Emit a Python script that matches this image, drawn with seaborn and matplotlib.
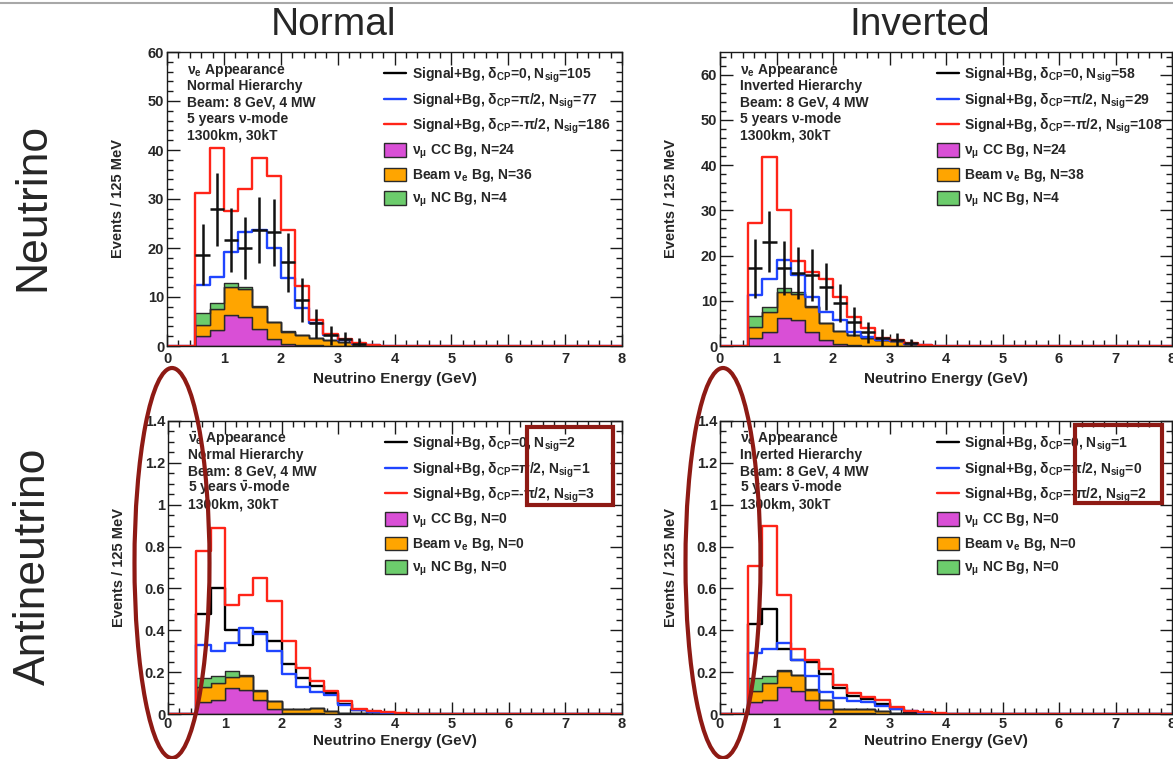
import numpy as np
import pandas as pd
import matplotlib
matplotlib.use("Agg")
import matplotlib.pyplot as plt
import seaborn as sns
from matplotlib.lines import Line2D
from matplotlib.patches import Patch, Ellipse, Rectangle
from matplotlib.ticker import MultipleLocator, FuncFormatter
from matplotlib.transforms import IdentityTransform

# ---------------------------------------------------------------------------
# Binning: 0.25 GeV bins from 0 to 8 GeV; filled bins start at 0.5 GeV
# ---------------------------------------------------------------------------
BIN_EDGES = [round(0.25 * i, 2) for i in range(33)]
FIRST_BIN_E = 0.5

# ---------------------------------------------------------------------------
# Normal hierarchy, neutrino mode
# ---------------------------------------------------------------------------
NH_NU_RED = [31.2, 40.5, 27.5, 32.1, 38.3, 34.7, 23.7, 12.3, 5.4, 2.4, 1.4, 0.6, 0.3, 0.1]
NH_NU_BLUE = [12.5, 14.0, 19.1, 23.2, 23.6, 20.0, 13.8, 7.7, 4.6, 2.2, 1.2, 0.5, 0.2]
NH_NU_POINTS = [18.6, 27.9, 21.7, 20.0, 23.7, 23.2, 17.1, 9.4, 4.6, 2.2, 1.4, 0.5]
NH_NU_ERRORS = [6.2, 7.5, 6.5, 6.4, 6.7, 6.9, 6.0, 4.4, 3.0, 1.9, 1.5, 1.2]
NH_NU_NUMU_CC = [2.0, 3.2, 6.4, 6.0, 3.4, 1.5, 0.5, 0.3, 0.2, 0.1, 0.1, 0.05]
NH_NU_BEAM_NUE = [2.3, 4.3, 5.7, 5.6, 4.6, 3.3, 2.4, 1.9, 1.4, 1.1, 0.7, 0.35, 0.2]
NH_NU_NC = [2.5, 1.2, 0.7, 0.5, 0.2, 0.1, 0.1]

# ---------------------------------------------------------------------------
# Inverted hierarchy, neutrino mode
# ---------------------------------------------------------------------------
IH_NU_RED = [27.2, 41.8, 30.1, 18.7, 16.3, 14.8, 10.9, 6.5, 3.9, 1.8, 1.3, 0.6, 0.3, 0.1]
IH_NU_BLUE = [11.3, 14.8, 19.0, 15.7, 10.8, 7.6, 5.8, 3.0, 2.1, 1.3, 1.0, 0.5, 0.2]
IH_NU_POINTS = [17.2, 23.1, 17.2, 16.1, 15.7, 13.1, 9.4, 5.4, 3.0, 1.7, 1.3, 0.6]
IH_NU_ERRORS = [6.5, 6.8, 6.0, 5.8, 5.8, 5.2, 4.2, 3.2, 2.4, 2.0, 1.5, 0.9]
IH_NU_NUMU_CC = [1.8, 3.2, 6.3, 5.8, 3.2, 1.3, 0.4, 0.2, 0.1, 0.1]
IH_NU_BEAM_NUE = [2.5, 4.3, 5.6, 5.6, 5.5, 3.7, 2.9, 2.2, 1.7, 1.2, 1.0, 0.5, 0.2]
IH_NU_NC = [2.3, 1.2, 0.9, 0.5, 0.1]

# ---------------------------------------------------------------------------
# Normal hierarchy, antineutrino mode
# ---------------------------------------------------------------------------
NH_NUBAR_RED = [0.78, 0.89, 0.52, 0.57, 0.65, 0.54, 0.35, 0.22, 0.16, 0.11, 0.06, 0.025, 0.013, 0.008, 0.004, 0.002]
NH_NUBAR_BLACK = [0.48, 0.60, 0.40, 0.33, 0.39, 0.35, 0.24, 0.17, 0.135, 0.10, 0.05, 0.02, 0.01, 0.005]
NH_NUBAR_BLUE = [0.33, 0.30, 0.34, 0.41, 0.38, 0.30, 0.19, 0.13, 0.105, 0.09, 0.045, 0.018, 0.01, 0.005]
NH_NUBAR_NUMU_CC = [0.057, 0.065, 0.125, 0.113, 0.065, 0.024, 0.005, 0.003, 0.003, 0.002]
NH_NUBAR_BEAM_NUE = [0.070, 0.083, 0.050, 0.067, 0.046, 0.036, 0.020, 0.021, 0.026, 0.014, 0.005, 0.003]
NH_NUBAR_NC = [0.043, 0.032, 0.029, 0.005, 0.003]

# ---------------------------------------------------------------------------
# Inverted hierarchy, antineutrino mode
# ---------------------------------------------------------------------------
IH_NUBAR_RED = [0.705, 0.90, 0.57, 0.31, 0.26, 0.215, 0.14, 0.10, 0.08, 0.065, 0.032, 0.016, 0.01, 0.005]
IH_NUBAR_BLACK = [0.43, 0.50, 0.31, 0.26, 0.247, 0.19, 0.124, 0.084, 0.073, 0.05, 0.025, 0.01, 0.005]
IH_NUBAR_BLUE = [0.29, 0.31, 0.34, 0.256, 0.18, 0.105, 0.076, 0.064, 0.059, 0.037, 0.024, 0.013, 0.006]
IH_NUBAR_NUMU_CC = [0.056, 0.068, 0.127, 0.111, 0.068, 0.024, 0.005, 0.003, 0.003, 0.002]
IH_NUBAR_BEAM_NUE = [0.055, 0.080, 0.077, 0.074, 0.048, 0.041, 0.020, 0.021, 0.022, 0.014, 0.005, 0.003]
IH_NUBAR_NC = [0.061, 0.032, 0.006, 0.003, 0.002]

# Signal / background counts quoted in the legends
NH_NU_NSIG = [105, 77, 186]
IH_NU_NSIG = [58, 29, 108]
NH_NUBAR_NSIG = [2, 1, 3]
IH_NUBAR_NSIG = [1, 0, 2]
NU_BG_COUNTS_NH = [24, 36, 4]
NU_BG_COUNTS_IH = [24, 38, 4]
NUBAR_BG_COUNTS = [0, 0, 0]
DELTA_CP = ["0", "π/2", "-π/2"]

COLUMN_TITLES = ["Normal", "Inverted"]
ROW_TITLES = ["Neutrino", "Antineutrino"]
HIERARCHY_NAMES = ["Normal Hierarchy", "Inverted Hierarchy"]

# ---------------------------------------------------------------------------
# Styling
# ---------------------------------------------------------------------------
C_RED = "#ff2418"
C_BLUE = "#1f45ff"
C_BLACK = "#000000"
C_MAGENTA = "#d94fd6"
C_ORANGE = "#ffa500"
C_GREEN = "#6ccc6c"
C_EDGE = "#2a2a2a"
C_MARK = "#8e1a14"

sns.set_style("ticks")
plt.rcParams["font.family"] = ["Liberation Sans", "DejaVu Sans"]
plt.rcParams.update({
    "mathtext.fontset": "custom",
    "mathtext.rm": "Liberation Sans:bold",
    "mathtext.it": "Liberation Sans:bold",
    "mathtext.bf": "Liberation Sans:bold",
    "mathtext.sf": "Liberation Sans:bold",
    "axes.edgecolor": "#1a1a1a",
    "axes.linewidth": 1.0,
})

W, H = 1173, 759
fig = plt.figure(figsize=(W / 100, H / 100), dpi=100)
fig.patch.set_facecolor("white")

# axes boxes in pixels: left, top, right, bottom
BOXES = {
    (0, 0): (167, 52, 622, 346),
    (0, 1): (720, 52, 1172, 346),
    (1, 0): (168, 421, 622, 714),
    (1, 1): (720, 421, 1172, 714),
}

N_BINS = len(BIN_EDGES) - 1
CENTERS = [BIN_EDGES[i] + 0.125 for i in range(N_BINS)]


def make_axes(box):
    l, t, r, b = box
    return fig.add_axes([l / W, 1 - b / H, (r - l) / W, (b - t) / H])


def full_bins(values):
    arr = np.zeros(N_BINS)
    start = int(round(FIRST_BIN_E / 0.25))
    arr[start:start + len(values)] = values
    return arr


def draw_panel(ax, box, bg, lines, points, errors, ylim, ymaj, ymin,
               header, legend_labels, xlabel_base, xtick_pad):
    l, t, r, b = box
    wpx, hpx = r - l, b - t

    # stacked backgrounds: nu_mu CC at the bottom, beam nu_e, NC on top
    order = ["NC", "beam", "numuCC"]
    df = pd.DataFrame({
        "E": np.tile(CENTERS, 3),
        "w": np.concatenate([full_bins(bg[k]) for k in order]),
        "src": np.repeat(order, N_BINS),
    })
    sns.histplot(data=df, x="E", weights="w", hue="src", hue_order=order,
                 palette={"NC": C_GREEN, "beam": C_ORANGE, "numuCC": C_MAGENTA},
                 bins=BIN_EDGES, multiple="stack", element="step", fill=True,
                 alpha=1, edgecolor=C_EDGE, linewidth=1.0, legend=False, ax=ax)

    for vals, color in lines:
        sns.histplot(x=CENTERS, weights=full_bins(vals), bins=BIN_EDGES,
                     element="step", fill=False, color=color, linewidth=1.7,
                     legend=False, ax=ax)

    if points is not None:
        n = len(points)
        ax.errorbar(CENTERS[2:2 + n], points, xerr=0.125, yerr=errors,
                    fmt="none", ecolor="#111111", elinewidth=1.8, capsize=0,
                    zorder=5)

    ax.set_xlim(0, 8)
    ax.set_ylim(*ylim)
    ax.xaxis.set_major_locator(MultipleLocator(1))
    ax.xaxis.set_minor_locator(MultipleLocator(0.2))
    ax.yaxis.set_major_locator(MultipleLocator(ymaj))
    ax.yaxis.set_minor_locator(MultipleLocator(ymin))
    ax.yaxis.set_major_formatter(FuncFormatter(lambda v, p: f"{v:g}"))
    ax.tick_params(which="both", direction="in", top=True, right=True,
                   color="#1a1a1a", width=1.0)
    ax.tick_params(which="major", length=9)
    ax.tick_params(which="minor", length=4.5)
    ax.tick_params(axis="x", which="major", pad=xtick_pad)
    ax.tick_params(axis="y", which="major", pad=2)
    for lab in ax.get_xticklabels() + ax.get_yticklabels():
        lab.set_fontweight("bold")
        lab.set_fontsize(10.5)

    ax.set_xlabel("Neutrino Energy (GeV)", fontsize=11, fontweight="bold")
    ax.xaxis.label.set_va("baseline")
    ax.xaxis.set_label_coords(0.5, -xlabel_base / hpx)
    ax.set_ylabel("Events / 125 MeV", fontsize=10.5, fontweight="bold")
    ax.yaxis.label.set_va("center")
    ax.yaxis.set_label_coords(-49 / wpx, 0.5)

    for i, line in enumerate(header):
        ax.text(20 / wpx, 1 - (22 + 16.3 * i) / hpx, line, transform=ax.transAxes,
                fontsize=10, fontweight="bold", ha="left", va="baseline")

    handles = [
        Line2D([], [], color=C_BLACK, lw=1.7),
        Line2D([], [], color=C_BLUE, lw=1.7),
        Line2D([], [], color=C_RED, lw=1.7),
        Patch(facecolor=C_MAGENTA, edgecolor=C_EDGE, lw=1.0),
        Patch(facecolor=C_ORANGE, edgecolor=C_EDGE, lw=1.0),
        Patch(facecolor=C_GREEN, edgecolor=C_EDGE, lw=1.0),
    ]
    ax.legend(handles, legend_labels, loc="upper left",
              bbox_to_anchor=(217 / wpx, 1 - 14 / hpx),
              frameon=False, borderpad=0, borderaxespad=0,
              handlelength=1.58, handleheight=1.15, handletextpad=0.4,
              labelspacing=0.45, prop={"weight": "bold", "size": 10})


def legend_labels(nsig, nbg):
    labs = [f"Signal+Bg, δ$_{{CP}}$={d}, N$_{{sig}}$={n}" for d, n in zip(DELTA_CP, nsig)]
    labs += [f"ν$_{{\\mu}}$ CC Bg, N={nbg[0]}",
             f"Beam ν$_{{e}}$ Bg, N={nbg[1]}",
             f"ν$_{{\\mu}}$ NC Bg, N={nbg[2]}"]
    return labs


def header_lines(anti, hierarchy):
    if anti:
        return [r"$\bar{\nu}_{e}$ Appearance", hierarchy, "Beam: 8 GeV, 4 MW",
                r"5 years $\bar{\nu}$-mode", "1300km, 30kT"]
    return ["ν$_{e}$ Appearance", hierarchy, "Beam: 8 GeV, 4 MW",
            "5 years ν-mode", "1300km, 30kT"]


panels = [
    ((0, 0), dict(bg={"numuCC": NH_NU_NUMU_CC, "beam": NH_NU_BEAM_NUE, "NC": NH_NU_NC},
                  lines=[(NH_NU_BLUE, C_BLUE), (NH_NU_RED, C_RED)],
                  points=NH_NU_POINTS, errors=NH_NU_ERRORS, ylim=(0, 60), ymaj=10, ymin=2,
                  header=header_lines(False, HIERARCHY_NAMES[0]),
                  legend_labels=legend_labels(NH_NU_NSIG, NU_BG_COUNTS_NH),
                  xlabel_base=37.5, xtick_pad=4)),
    ((0, 1), dict(bg={"numuCC": IH_NU_NUMU_CC, "beam": IH_NU_BEAM_NUE, "NC": IH_NU_NC},
                  lines=[(IH_NU_BLUE, C_BLUE), (IH_NU_RED, C_RED)],
                  points=IH_NU_POINTS, errors=IH_NU_ERRORS, ylim=(0, 65), ymaj=10, ymin=2,
                  header=header_lines(False, HIERARCHY_NAMES[1]),
                  legend_labels=legend_labels(IH_NU_NSIG, NU_BG_COUNTS_IH),
                  xlabel_base=37.5, xtick_pad=4)),
    ((1, 0), dict(bg={"numuCC": NH_NUBAR_NUMU_CC, "beam": NH_NUBAR_BEAM_NUE, "NC": NH_NUBAR_NC},
                  lines=[(NH_NUBAR_BLACK, C_BLACK), (NH_NUBAR_BLUE, C_BLUE), (NH_NUBAR_RED, C_RED)],
                  points=None, errors=None, ylim=(0, 1.4), ymaj=0.2, ymin=0.05,
                  header=header_lines(True, HIERARCHY_NAMES[0]),
                  legend_labels=legend_labels(NH_NUBAR_NSIG, NUBAR_BG_COUNTS),
                  xlabel_base=31.5, xtick_pad=2.5)),
    ((1, 1), dict(bg={"numuCC": IH_NUBAR_NUMU_CC, "beam": IH_NUBAR_BEAM_NUE, "NC": IH_NUBAR_NC},
                  lines=[(IH_NUBAR_BLACK, C_BLACK), (IH_NUBAR_BLUE, C_BLUE), (IH_NUBAR_RED, C_RED)],
                  points=None, errors=None, ylim=(0, 1.4), ymaj=0.2, ymin=0.05,
                  header=header_lines(True, HIERARCHY_NAMES[1]),
                  legend_labels=legend_labels(IH_NUBAR_NSIG, NUBAR_BG_COUNTS),
                  xlabel_base=31.5, xtick_pad=2.5)),
]

for key, kw in panels:
    ax = make_axes(BOXES[key])
    draw_panel(ax, BOXES[key], **kw)

# column and row titles
for title, xc in zip(COLUMN_TITLES, [334, 920]):
    fig.text(xc / W, 1 - 35 / H, title, fontsize=28, ha="center", va="baseline",
             family=["Liberation Sans", "DejaVu Sans"])
for title, yc in zip(ROW_TITLES, [207, 566]):
    fig.text(33 / W, 1 - yc / H, title, fontsize=32, rotation=90,
             ha="center", va="center", family=["Liberation Sans", "DejaVu Sans"])

# thin rule along the top edge
fig.add_artist(Line2D([0, 1], [1 - 2.5 / H, 1 - 2.5 / H], transform=fig.transFigure,
                      color="#a8a8a8", lw=1.5))

# highlight marks: ellipses around the low-energy region, boxes round N_sig
for cx in (172, 723):
    fig.add_artist(Ellipse((cx, H - 563), 75, 390, angle=0.0, fill=False,
                           edgecolor=C_MARK, lw=3.0, transform=IdentityTransform(),
                           zorder=20))
for (x0, y0, x1, y1) in [(527, 427, 613, 505), (1075, 425, 1162, 503)]:
    fig.add_artist(Rectangle((x0, H - y1), x1 - x0, y1 - y0, fill=False,
                             edgecolor=C_MARK, lw=3.0, transform=IdentityTransform(),
                             zorder=20))

fig.savefig("out.png", dpi=100)
